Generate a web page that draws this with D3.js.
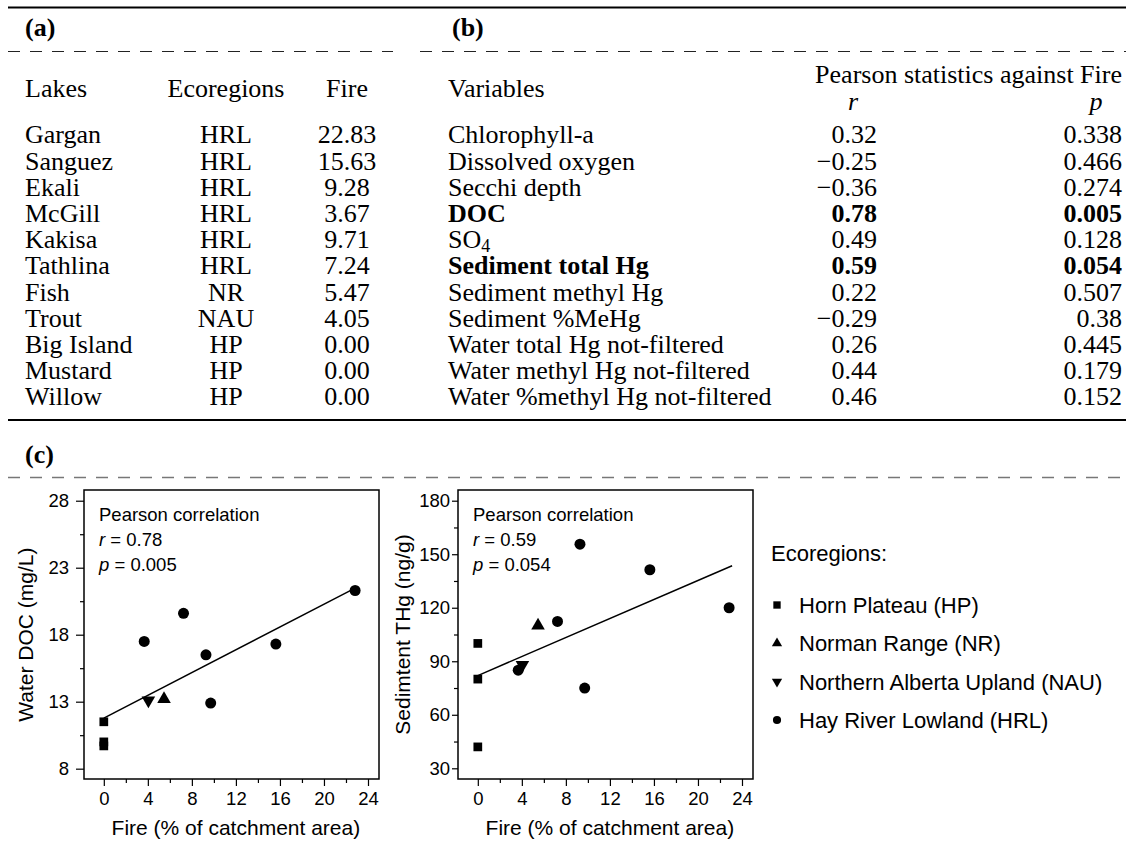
<!DOCTYPE html>
<html>
<head>
<meta charset="utf-8">
<script src="https://cdn.jsdelivr.net/npm/d3@7/dist/d3.min.js"></script>
<style>
	body { margin: 0; background: #fff; }
	svg { display: block; }
	.serif { font-family: 'Liberation Serif', 'Times New Roman', serif; fill: #000; }
	.sans { font-family: 'Liberation Sans', Arial, sans-serif; fill: #000; }
</style>
</head>
<body>
<svg id="chart" width="1126" height="848"></svg>
<script>
// table (a)
var lakes = ['Gargan', 'Sanguez', 'Ekali', 'McGill', 'Kakisa', 'Tathlina', 'Fish', 'Trout', 'Big Island', 'Mustard', 'Willow'];
var ecoregions = ['HRL', 'HRL', 'HRL', 'HRL', 'HRL', 'HRL', 'NR', 'NAU', 'HP', 'HP', 'HP'];
var fire = [22.83, 15.63, 9.28, 3.67, 9.71, 7.24, 5.47, 4.05, 0, 0, 0];

// values, same lake order
var doc = [21.3, 17.3, 16.5, 17.5, 12.9, 19.6, 13.2, 13.1, 11.5, 9.7, 10.0];
var thg = [120, 141.3, 155.6, 85, 75, 112.3, 110, 88, 100, 80, 42];

// table (b)
var variables = ['Chlorophyll-a', 'Dissolved oxygen', 'Secchi depth', 'DOC', 'SO4', 'Sediment total Hg',
	'Sediment methyl Hg', 'Sediment %MeHg', 'Water total Hg not-filtered', 'Water methyl Hg not-filtered',
	'Water %methyl Hg not-filtered'];
var rValues = [0.32, -0.25, -0.36, 0.78, 0.49, 0.59, 0.22, -0.29, 0.26, 0.44, 0.46];
var pValues = [0.338, 0.466, 0.274, 0.005, 0.128, 0.054, 0.507, 0.38, 0.445, 0.179, 0.152];
var boldVariables = ['DOC', 'Sediment total Hg'];

// legend
var legendCodes = ['HP', 'NR', 'NAU', 'HRL'];
var legendNames = ['Horn Plateau (HP)', 'Norman Range (NR)', 'Northern Alberta Upland (NAU)', 'Hay River Lowland (HRL)'];

// ticks
var fireTicks = [0, 4, 8, 12, 16, 20, 24];
var fireMinor = [2, 6, 10, 14, 18, 22];
var docTicks = [8, 13, 18, 23, 28];
var docMinor = [10.5, 15.5, 20.5, 25.5];
var thgTicks = [30, 60, 90, 120, 150, 180];
var thgMinor = [45, 75, 105, 135, 165];

var svg = d3.select('#chart');
svg.append('rect').attr('width', 1126).attr('height', 848).attr('fill', '#fff');

// ---------- tables ----------
var rowY = d3.scaleLinear().domain([0, 10]).range([143.3, 405.3]);

function rule(y, x1, x2, w, dash, color) {
	svg.append('line')
		.attr('x1', x1).attr('x2', x2)
		.attr('y1', y).attr('y2', y)
		.attr('stroke', color || '#000')
		.attr('stroke-width', w)
		.attr('stroke-dasharray', dash || null);
}

rule(7.5, 8, 1126, 2);
rule(51.5, 8, 393, 1, '12,10', '#222');
rule(51.5, 420, 1126, 1, '12,10', '#222');
rule(420, 8, 1126, 2);
rule(477.5, 8, 1126, 1.5, '12,10', '#777');

var tbl = svg.append('g').attr('class', 'serif').style('font-size', '26px');

tbl.append('text').attr('x', 25).attr('y', 36).attr('font-weight', 'bold').text('(a)');
tbl.append('text').attr('x', 452).attr('y', 36).attr('font-weight', 'bold').text('(b)');
tbl.append('text').attr('x', 25).attr('y', 463).attr('font-weight', 'bold').text('(c)');

tbl.append('text').attr('x', 25).attr('y', 97).text('Lakes');
tbl.append('text').attr('x', 226).attr('y', 97).attr('text-anchor', 'middle').text('Ecoregions');
tbl.append('text').attr('x', 347).attr('y', 97).attr('text-anchor', 'middle').text('Fire');
tbl.append('text').attr('x', 448).attr('y', 97).text('Variables');
tbl.append('text').attr('x', 1122).attr('y', 83).attr('text-anchor', 'end').text('Pearson statistics against Fire');
tbl.append('text').attr('x', 853).attr('y', 110).attr('text-anchor', 'middle').attr('font-style', 'italic').text('r');
tbl.append('text').attr('x', 1096).attr('y', 110).attr('text-anchor', 'middle').attr('font-style', 'italic').text('p');

var rowsA = tbl.selectAll('.rowA').data(lakes).enter().append('g').attr('class', 'rowA');
rowsA.append('text').attr('x', 25).attr('y', function (d, i) { return rowY(i); }).text(function (d) { return d; });
rowsA.append('text').attr('x', 226).attr('y', function (d, i) { return rowY(i); })
	.attr('text-anchor', 'middle').text(function (d, i) { return ecoregions[i]; });
rowsA.append('text').attr('x', 347).attr('y', function (d, i) { return rowY(i); })
	.attr('text-anchor', 'middle').text(function (d, i) { return fire[i].toFixed(2); });

var fmtR = function (v) { return v.toFixed(2).replace('-', '\u2212'); };
var rowsB = tbl.selectAll('.rowB').data(variables).enter().append('g').attr('class', 'rowB')
	.attr('font-weight', function (d) { return boldVariables.indexOf(d) >= 0 ? 'bold' : null; });
rowsB.append('text').attr('x', 448).attr('y', function (d, i) { return rowY(i); })
	.each(function (d) {
		var t = d3.select(this);
		if (d === 'SO4') {
			t.append('tspan').text('SO');
			t.append('tspan').attr('dy', 4).style('font-size', '18px').text('4');
		} else {
			t.text(d);
		}
	});
rowsB.append('text').attr('x', 877).attr('y', function (d, i) { return rowY(i); })
	.attr('text-anchor', 'end').text(function (d, i) { return fmtR(rValues[i]); });
rowsB.append('text').attr('x', 1122).attr('y', function (d, i) { return rowY(i); })
	.attr('text-anchor', 'end').text(function (d, i) { return String(pValues[i]); });

// ---------- scatter panels ----------
var shapes = {
	HP: d3.symbol().type(d3.symbolSquare),
	NR: d3.symbol().type(d3.symbolTriangle),
	NAU: d3.symbol().type(d3.symbolTriangle),
	HRL: d3.symbol().type(d3.symbolCircle)
};
var plotSize = { HP: 76, NR: 80, NAU: 80, HRL: 95 };
var legendSize = { HP: 54, NR: 46, NAU: 46, HRL: 52 };

function marker(sel, code, area) {
	sel.attr('d', shapes[code].size(area)())
		.attr('fill', '#000');
}

function linearFit(xs, ys) {
	var mx = d3.mean(xs), my = d3.mean(ys);
	var sxy = d3.sum(xs, function (d, i) { return (d - mx) * (ys[i] - my); });
	var sxx = d3.sum(xs, function (d) { return (d - mx) * (d - mx); });
	var slope = sxy / sxx;
	return { slope: slope, intercept: my - slope * mx };
}

function ScatterPanel(o) {
	var g = svg.append('g').attr('class', 'sans');
	var scaleX = d3.scaleLinear().domain([-1.8, 25]).range([o.left, o.right]);
	var scaleY = d3.scaleLinear().domain(o.yDomain).range([o.bottom, o.top]);

	g.append('g')
		.attr('transform', 'translate(' + o.left + ',0)')
		.call(d3.axisLeft(scaleY).tickValues(o.yTicks).tickSize(o.tickLen).tickPadding(o.yPad));
	g.append('g')
		.attr('transform', 'translate(' + o.left + ',0)')
		.call(d3.axisLeft(scaleY).tickValues(o.yMinor).tickSize(4).tickFormat(''));

	g.append('g')
		.attr('transform', 'translate(0,' + o.bottom + ')')
		.call(d3.axisBottom(scaleX).tickValues(fireTicks).tickSize(7).tickPadding(6));
	g.append('g')
		.attr('transform', 'translate(0,' + o.bottom + ')')
		.call(d3.axisBottom(scaleX).tickValues(fireMinor).tickSize(4).tickFormat(''));

	g.selectAll('.domain').remove();
	g.selectAll('.tick line').attr('stroke', '#000').attr('stroke-width', 1.2);
	g.selectAll('.tick text').attr('fill', '#000').style('font-size', '18.5px')
		.style('font-family', "'Liberation Sans', Arial, sans-serif");

	g.append('rect')
		.attr('x', o.left).attr('y', o.top)
		.attr('width', o.right - o.left).attr('height', o.bottom - o.top)
		.attr('fill', 'none').attr('stroke', '#000').attr('stroke-width', 1.5);

	// axis titles, centred on the tick range
	g.append('text')
		.attr('x', (scaleX(0) + scaleX(24)) / 2).attr('y', 835)
		.attr('text-anchor', 'middle').style('font-size', '21px')
		.text('Fire (% of catchment area)');
	var yMid = (scaleY(o.yTicks[0]) + scaleY(o.yTicks[o.yTicks.length - 1])) / 2;
	g.append('text')
		.attr('transform', 'translate(' + (o.left - o.titleOff) + ',' + yMid + ') rotate(-90)')
		.attr('text-anchor', 'middle').style('font-size', '21px')
		.text(o.title);

	// regression line
	var fit = linearFit(fire, o.values);
	var ext = [0, o.lineEnd];
	g.append('line')
		.attr('x1', scaleX(ext[0])).attr('y1', scaleY(fit.intercept + fit.slope * ext[0]))
		.attr('x2', scaleX(ext[1])).attr('y2', scaleY(fit.intercept + fit.slope * ext[1]))
		.attr('stroke', '#000').attr('stroke-width', 1.5);

	// points
	g.selectAll('.pt').data(o.values).enter().append('path')
		.attr('class', 'pt')
		.each(function (d, i) { marker(d3.select(this), ecoregions[i], plotSize[ecoregions[i]]); })
		.attr('transform', function (d, i) {
			return 'translate(' + scaleX(fire[i]) + ',' + scaleY(d) + ')' + (ecoregions[i] === 'NAU' ? ' rotate(180)' : '');
		});

	// stats text
	var st = g.append('g').style('font-size', '18.5px');
	st.append('text').attr('x', o.left + 15).attr('y', 521).text('Pearson correlation');
	var t1 = st.append('text').attr('x', o.left + 15).attr('y', 546);
	t1.append('tspan').attr('font-style', 'italic').text('r');
	t1.append('tspan').text(' = ' + o.r);
	var t2 = st.append('text').attr('x', o.left + 15).attr('y', 571);
	t2.append('tspan').attr('font-style', 'italic').text('p');
	t2.append('tspan').text(' = ' + o.p);
}

new ScatterPanel({
	left: 84, right: 379, top: 490, bottom: 779,
	yDomain: [7.23, 28.8], yTicks: docTicks, yMinor: docMinor,
	tickLen: 8, yPad: 7, titleOff: 51, lineEnd: d3.max(fire),
	values: doc, title: 'Water DOC (mg/L)',
	r: rValues[variables.indexOf('DOC')].toFixed(2), p: pValues[variables.indexOf('DOC')].toFixed(3)
});

new ScatterPanel({
	left: 458, right: 753, top: 490, bottom: 779,
	yDomain: [24, 186], yTicks: thgTicks, yMinor: thgMinor,
	tickLen: 6, yPad: 2, titleOff: 48, lineEnd: 23.1,
	values: thg, title: 'Sedimtent THg (ng/g)',
	r: rValues[variables.indexOf('Sediment total Hg')].toFixed(2), p: pValues[variables.indexOf('Sediment total Hg')].toFixed(3)
});

// ---------- legend ----------
var leg = svg.append('g').attr('class', 'sans').style('font-size', '22px');
leg.append('text').attr('x', 771).attr('y', 561).text('Ecoregions:');
var legY = d3.scaleLinear().domain([0, 3]).range([605, 720]);
var items = leg.selectAll('.item').data(legendCodes).enter().append('g').attr('class', 'item');
items.append('path')
	.each(function (d) { marker(d3.select(this), d, legendSize[d]); })
	.attr('transform', function (d, i) { return 'translate(777,' + legY(i) + ')' + (d === 'NAU' ? ' rotate(180)' : ''); });
items.append('text')
	.attr('x', 799).attr('y', function (d, i) { return legY(i) + 8; })
	.text(function (d, i) { return legendNames[i]; });
</script>
</body>
</html>
